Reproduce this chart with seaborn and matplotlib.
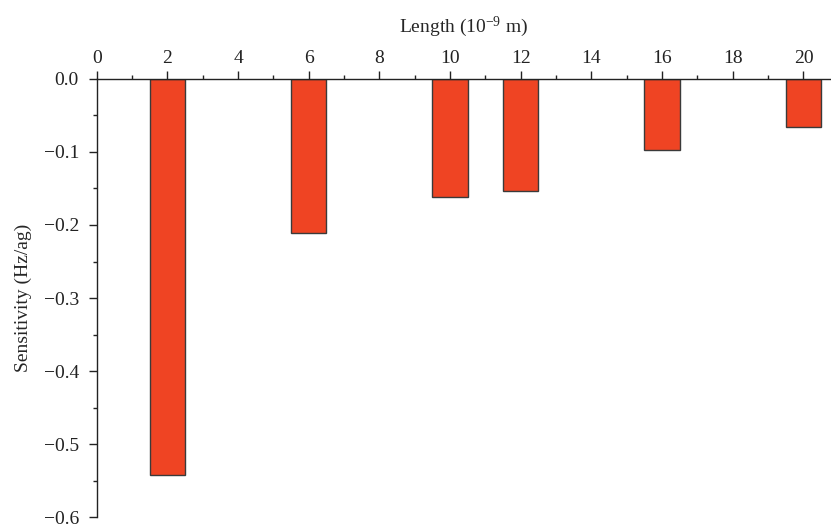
import matplotlib
matplotlib.use("Agg")
import matplotlib.pyplot as plt
from matplotlib.ticker import MultipleLocator
import seaborn as sns
import pandas as pd

# Sensitivity versus nanobeam length
lengths = [2, 6, 10, 12, 16, 20]
sensitivity = [-0.542, -0.211, -0.162, -0.153, -0.097, -0.066]
x_ticks = [0, 2, 4, 6, 8, 10, 12, 14, 16, 18, 20]
y_ticks = [0.0, -0.1, -0.2, -0.3, -0.4, -0.5, -0.6]

df = pd.DataFrame({"length": lengths, "sensitivity": sensitivity})

sns.set_style("ticks")
plt.rcParams["font.family"] = ["Liberation Serif", "DejaVu Serif"]
plt.rcParams["mathtext.fontset"] = "custom"
plt.rcParams["mathtext.rm"] = "Liberation Serif"
plt.rcParams["mathtext.it"] = "Liberation Serif:italic"

fig = plt.figure(figsize=(8.31, 5.28), dpi=100)
ax = fig.add_axes([0.1164, 0.0208, 0.8836, 0.8296])

sns.barplot(data=df, x="length", y="sensitivity", native_scale=True,
            width=0.5, color="#EF4423", saturation=1,
            edgecolor="#3a3a3a", linewidth=1.0, ax=ax)

ax.set_xlim(0, 20.78)
ax.set_ylim(-0.6, 0.0)

ax.xaxis.set_ticks_position("top")
ax.xaxis.set_label_position("top")
ax.set_xticks(x_ticks)
ax.set_xticklabels([str(t) for t in x_ticks])
ax.xaxis.set_minor_locator(MultipleLocator(1))
ax.set_yticks(y_ticks)
ax.set_yticklabels([f"{t:.1f}".replace("-", "\u2212") if t != 0 else "0.0" for t in y_ticks])
ax.yaxis.set_minor_locator(MultipleLocator(0.05))

for side in ("right", "bottom"):
    ax.spines[side].set_visible(False)
for side in ("top", "left"):
    ax.spines[side].set_linewidth(1.0)
    ax.spines[side].set_color("#222222")

ax.tick_params(axis="both", which="major", direction="out", length=5.8,
               width=1.0, colors="#222222", labelsize=14)
ax.tick_params(axis="both", which="minor", direction="out", length=3,
               width=1.0, colors="#222222")
ax.tick_params(axis="x", which="both", top=True, bottom=False, pad=3)
ax.tick_params(axis="y", which="both", pad=7)

ax.set_xlabel("Length (10$^{\u22129}$ m)", fontsize=14, labelpad=13)
ax.set_ylabel("Sensitivity (Hz/ag)", fontsize=14, labelpad=8)

fig.savefig("out.png", dpi=100)
